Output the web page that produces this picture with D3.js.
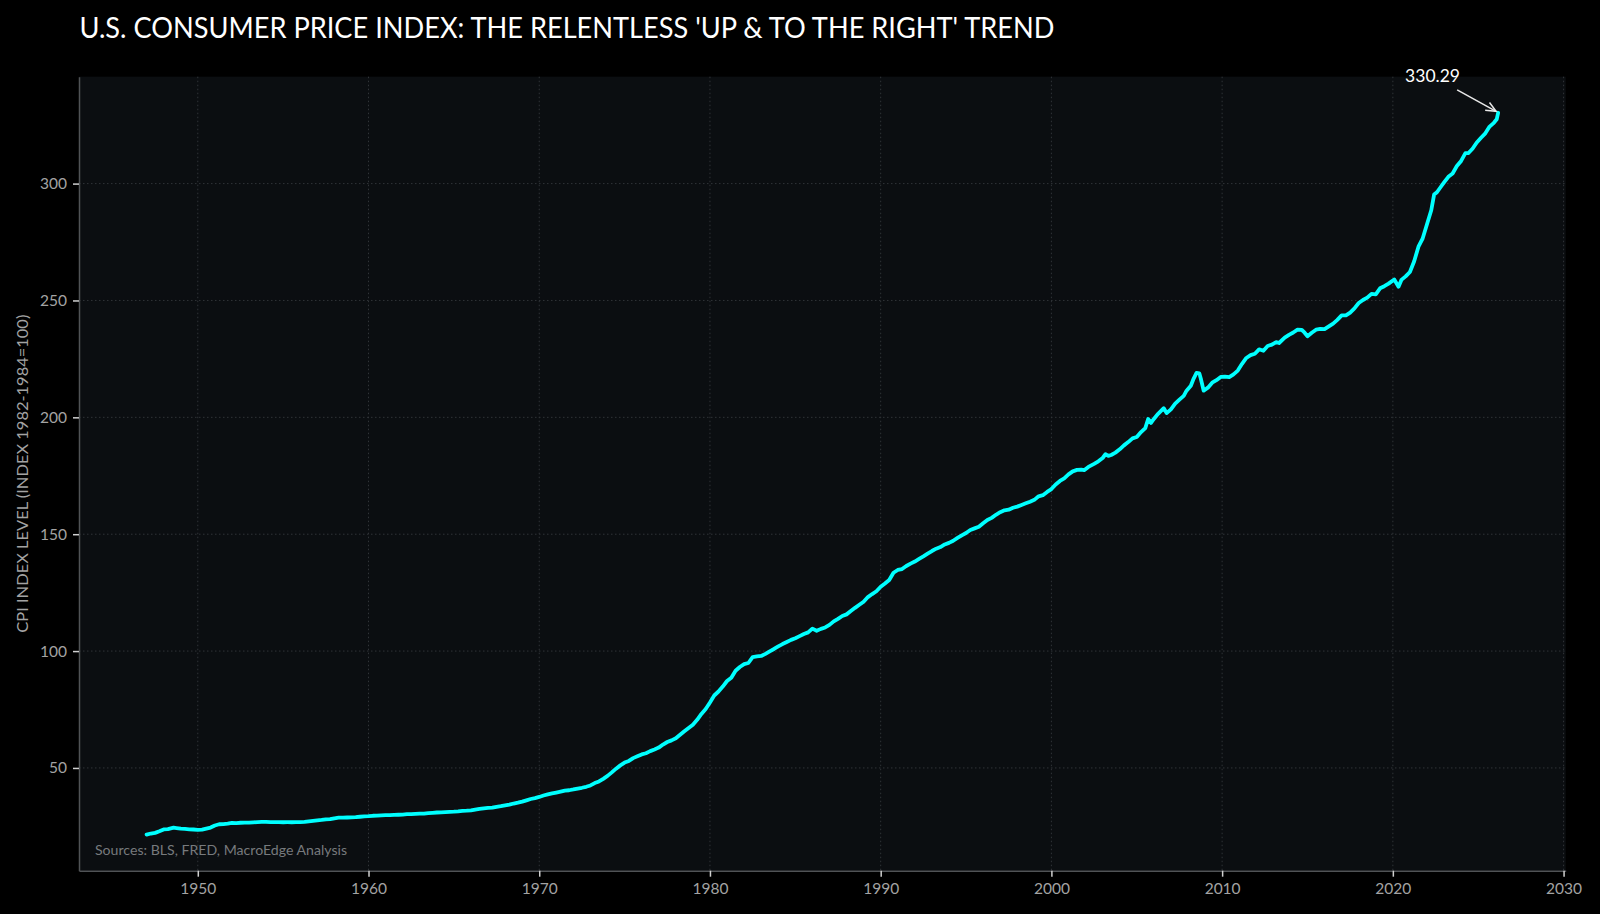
<!DOCTYPE html>
<html><head><meta charset="utf-8">
<script src="https://cdn.jsdelivr.net/npm/d3@7"></script>
<style>html,body{margin:0;padding:0;background:#000;} svg{display:block;}</style>
</head><body>
<svg id="chart" width="1600" height="914"></svg>
<script>
// ---- DATA ----
const months = [
"1947-01","1947-04","1947-07","1947-10","1948-01","1948-04","1948-08","1948-10",
"1949-01","1949-04","1949-07","1949-10","1950-01","1950-04","1950-07","1950-10",
"1951-01","1951-04","1951-07","1951-10","1952-01","1952-04","1952-07","1952-10",
"1953-01","1953-04","1953-07","1953-10","1954-01","1954-04","1954-07","1954-10",
"1955-01","1955-04","1955-07","1955-10","1956-01","1956-04","1956-07","1956-10",
"1957-01","1957-04","1957-07","1957-10","1958-01","1958-04","1958-07","1958-10",
"1959-01","1959-04","1959-07","1959-10","1960-01","1960-04","1960-07","1960-10",
"1961-01","1961-04","1961-07","1961-10","1962-01","1962-04","1962-07","1962-10",
"1963-01","1963-04","1963-07","1963-10","1964-01","1964-04","1964-07","1964-10",
"1965-01","1965-04","1965-07","1965-10","1966-01","1966-04","1966-07","1966-10",
"1967-01","1967-04","1967-07","1967-10","1968-01","1968-04","1968-07","1968-10",
"1969-01","1969-04","1969-07","1969-10","1970-01","1970-04","1970-07","1970-10",
"1971-01","1971-04","1971-07","1971-10","1972-01","1972-04","1972-07","1972-10",
"1973-01","1973-04","1973-07","1973-10","1974-01","1974-04","1974-07","1974-10",
"1975-01","1975-04","1975-07","1975-10","1976-01","1976-04","1976-07","1976-10",
"1977-01","1977-04","1977-07","1977-10","1978-01","1978-04","1978-07","1978-10",
"1979-01","1979-04","1979-07","1979-10","1980-01","1980-04","1980-07","1980-10",
"1981-01","1981-04","1981-07","1981-10","1982-01","1982-04","1982-07","1982-10",
"1983-01","1983-04","1983-07","1983-10","1984-01","1984-04","1984-07","1984-10",
"1985-01","1985-04","1985-07","1985-10","1986-01","1986-04","1986-07","1986-10",
"1987-01","1987-04","1987-07","1987-10","1988-01","1988-04","1988-07","1988-10",
"1989-01","1989-04","1989-07","1989-10","1990-01","1990-04","1990-07","1990-10",
"1991-01","1991-04","1991-07","1991-10","1992-01","1992-04","1992-07","1992-10",
"1993-01","1993-04","1993-07","1993-10","1994-01","1994-04","1994-07","1994-10",
"1995-01","1995-04","1995-07","1995-10","1996-01","1996-04","1996-07","1996-10",
"1997-01","1997-04","1997-07","1997-10","1998-01","1998-04","1998-07","1998-10",
"1999-01","1999-04","1999-07","1999-10","2000-01","2000-04","2000-07","2000-10",
"2001-01","2001-04","2001-07","2001-10","2001-12","2002-03","2002-07","2002-10",
"2003-01","2003-03","2003-05","2003-07","2003-10","2004-01","2004-04","2004-07","2004-10",
"2005-01","2005-04","2005-07","2005-09","2005-11","2006-01","2006-04","2006-08","2006-10",
"2007-01","2007-04","2007-07","2007-10","2007-12","2008-03","2008-05","2008-07","2008-09",
"2008-10","2008-12","2009-03","2009-06","2009-09","2009-12","2010-03","2010-06","2010-09",
"2010-12","2011-03","2011-06","2011-09","2011-12","2012-03","2012-06","2012-09","2012-12",
"2013-03","2013-05","2013-09","2013-12","2014-03","2014-06","2014-09","2014-11","2015-01",
"2015-04","2015-07","2015-10","2016-01","2016-04","2016-07","2016-10","2017-01","2017-04",
"2017-07","2017-10","2018-01","2018-04","2018-07","2018-10","2019-01","2019-04","2019-07",
"2019-10","2020-02","2020-05","2020-07","2020-10","2021-01","2021-04","2021-07","2021-10",
"2022-01","2022-04","2022-06","2022-08","2022-10","2023-01","2023-04","2023-07","2023-10",
"2024-01","2024-04","2024-06","2024-09","2024-12","2025-03","2025-06","2025-09","2025-12",
"2026-02","2026-03"
];
const cpi = [
21.48,21.95,22.23,22.91,23.68,23.82,24.45,24.30,
24.01,23.92,23.75,23.67,23.51,23.61,24.07,24.50,
25.38,25.92,25.94,26.16,26.45,26.43,26.55,26.65,
26.59,26.72,26.85,26.89,26.94,26.86,26.85,26.78,
26.77,26.79,26.77,26.82,26.81,26.91,27.16,27.35,
27.56,27.76,28.01,28.10,28.47,28.71,28.75,28.79,
28.84,28.92,29.12,29.29,29.37,29.54,29.59,29.74,
29.84,29.84,29.92,29.98,30.04,30.22,30.25,30.35,
30.44,30.50,30.69,30.80,30.94,31.00,31.10,31.21,
31.28,31.41,31.59,31.70,31.88,32.19,32.46,32.71,
32.90,33.05,33.38,33.64,33.96,34.30,34.78,35.14,
35.57,36.14,36.71,37.10,37.60,38.20,38.71,39.13,
39.49,39.89,40.32,40.46,40.80,41.19,41.52,41.94,
42.51,43.52,44.24,45.35,46.60,48.10,49.70,51.10,
52.30,53.00,54.20,55.00,55.80,56.30,57.20,57.90,
58.70,60.00,61.10,61.80,62.70,64.20,65.70,67.10,
68.50,70.60,73.10,75.20,78.00,81.00,82.70,84.80,
87.20,88.60,91.60,93.20,94.40,94.90,97.40,97.70,
97.90,98.80,99.90,100.90,102.00,103.00,103.90,104.80,
105.50,106.40,107.30,108.00,109.60,108.70,109.50,110.10,
111.20,112.70,113.80,115.00,115.70,117.10,118.50,119.80,
121.10,123.10,124.40,125.60,127.50,128.90,130.40,133.50,
134.70,135.10,136.40,137.40,138.30,139.40,140.50,141.70,
142.80,143.80,144.50,145.60,146.30,147.20,148.40,149.50,
150.50,151.80,152.50,153.20,154.70,156.10,157.00,158.30,
159.40,160.20,160.50,161.30,161.80,162.50,163.20,163.90,
164.70,166.20,166.70,168.10,169.30,171.30,172.80,173.90,
175.60,176.90,177.50,177.60,177.40,178.80,180.10,181.20,
182.60,184.20,183.50,183.90,184.90,186.30,188.00,189.40,191.00,
191.60,193.70,195.40,199.30,197.60,199.30,201.50,203.90,201.80,
203.40,205.90,207.60,209.20,211.40,213.50,216.60,219.00,218.80,
216.60,211.40,212.70,214.80,215.90,217.30,217.40,217.20,218.40,
220.00,222.90,225.40,226.60,227.20,229.10,228.50,230.50,231.10,
232.20,231.80,234.10,235.30,236.30,237.50,237.40,236.20,234.70,
236.20,237.50,237.80,237.70,238.90,240.10,241.70,243.60,243.60,
244.80,246.60,248.90,250.20,251.20,252.80,252.60,255.20,256.10,
257.20,259.00,255.90,258.80,260.30,262.20,266.80,273.00,276.60,
282.60,288.60,295.30,296.30,298.00,300.50,302.90,304.30,307.50,
309.70,313.00,313.00,314.90,317.60,319.60,321.50,324.40,326.00,
327.50,330.29
];
const xTickValues = [1950,1960,1970,1980,1990,2000,2010,2020,2030];
const yTickValues = [50,100,150,200,250,300];
const titleText = "U.S. CONSUMER PRICE INDEX: THE RELENTLESS 'UP & TO THE RIGHT' TREND";
const yLabelText = "CPI INDEX LEVEL (INDEX 1982-1984=100)";
const sourceText = "Sources: BLS, FRED, MacroEdge Analysis";
const lastLabel = "330.29";

// ---- LAYOUT ----
const W = 1600, H = 914;
const plot = {left: 79, right: 1565.7, top: 76.7, bottom: 870.7};
const FONT = "Lato, 'Open Sans', 'DejaVu Sans', sans-serif";

const data = months.map((m, i) => {
  const [yy, mm] = m.split("-").map(Number);
  return {t: yy + (mm - 1) / 12, v: cpi[i]};
});

const tExt = d3.extent(data, d => d.t), vExt = d3.extent(data, d => d.v);
const tPad = (tExt[1] - tExt[0]) * 0.05, vPad = (vExt[1] - vExt[0]) * 0.05;
const x = d3.scaleLinear().domain([tExt[0] - tPad, tExt[1] + tPad]).range([plot.left, plot.right]);
const y = d3.scaleLinear().domain([vExt[0] - vPad, vExt[1] + vPad]).range([plot.bottom, plot.top]);

const svg = d3.select("#chart");
svg.append("rect").attr("width", W).attr("height", H).attr("fill", "#000");
svg.append("rect").attr("x", plot.left).attr("y", plot.top)
  .attr("width", plot.right - plot.left).attr("height", plot.bottom - plot.top)
  .attr("fill", "#0b0e11");

// grid
const grid = svg.append("g");
grid.selectAll("line.gx").data(xTickValues).join("line")
  .attr("x1", d => x(d)).attr("x2", d => x(d)).attr("y1", plot.top).attr("y2", plot.bottom)
  .attr("stroke", "#303438").attr("stroke-width", 1).attr("stroke-dasharray", "1.5,2.5");
grid.selectAll("line.gy").data(yTickValues).join("line")
  .attr("y1", d => y(d)).attr("y2", d => y(d)).attr("x1", plot.left).attr("x2", plot.right)
  .attr("stroke", "#303438").attr("stroke-width", 1).attr("stroke-dasharray", "1.5,2.5");

// line
const line = d3.line().x(d => x(d.t)).y(d => y(d.v));
svg.append("path").datum(data).attr("d", line)
  .attr("fill", "none").attr("stroke", "#00ffff").attr("stroke-width", 3.8)
  .attr("stroke-linejoin", "round").attr("stroke-linecap", "round");

// axes
const xAxis = d3.axisBottom(x).tickValues(xTickValues).tickFormat(d3.format("d"))
  .tickSize(6).tickSizeOuter(0).tickPadding(6);
const yAxis = d3.axisLeft(y).tickValues(yTickValues).tickFormat(d3.format("d"))
  .tickSize(6).tickSizeOuter(0).tickPadding(6);
const gx = svg.append("g").attr("transform", `translate(0,${plot.bottom})`).call(xAxis);
const gy = svg.append("g").attr("transform", `translate(${plot.left},0)`).call(yAxis);
[gx, gy].forEach(g => {
  g.select(".domain").attr("stroke", "#505356").attr("stroke-width", 1.5);
  g.selectAll(".tick line").attr("stroke", "#d0d0d0").attr("stroke-width", 1.5);
  g.selectAll(".tick text").attr("fill", "#a3a3a3").attr("font-size", 15.5)
    .attr("font-family", FONT);
});

// title
const title = svg.append("text").attr("x", 79.5).attr("y", 38)
  .attr("fill", "#ffffff").attr("font-size", 28).attr("font-family", FONT)
  .text(titleText);
title.attr("textLength", 975).attr("lengthAdjust", "spacingAndGlyphs");

// y label
svg.append("text")
  .attr("transform", `translate(28,${(plot.top + plot.bottom) / 2}) rotate(-90)`)
  .attr("text-anchor", "middle").attr("fill", "#a3a3a3")
  .attr("font-size", 16).attr("font-family", FONT).text(yLabelText)
  .attr("textLength", 318).attr("lengthAdjust", "spacingAndGlyphs");

// sources
svg.append("text").attr("x", 95).attr("y", 855).attr("fill", "#777a7d")
  .attr("font-size", 13.5).attr("font-family", FONT).text(sourceText)
  .attr("textLength", 252).attr("lengthAdjust", "spacingAndGlyphs");

// annotation
const last = data[data.length - 1];
const lx = x(last.t), ly = y(last.v);
svg.append("text").attr("x", lx - 93).attr("y", ly - 31).attr("fill", "#ffffff")
  .attr("font-size", 17.5).attr("font-family", FONT).text(lastLabel);
const tip = [lx - 2, ly - 1.5], start = [lx - 41, ly - 23];
const ang = Math.atan2(tip[1] - start[1], tip[0] - start[0]);
const hl = 11, ha = 0.42;
const arrow = svg.append("g").attr("stroke", "#e8e8e8").attr("stroke-width", 1.5).attr("fill", "none");
arrow.append("line").attr("x1", start[0]).attr("y1", start[1]).attr("x2", tip[0]).attr("y2", tip[1]);
arrow.append("path").attr("d", d3.line()([
  [tip[0] - hl * Math.cos(ang - ha), tip[1] - hl * Math.sin(ang - ha)],
  tip,
  [tip[0] - hl * Math.cos(ang + ha), tip[1] - hl * Math.sin(ang + ha)]
]));
</script>
</body></html>
